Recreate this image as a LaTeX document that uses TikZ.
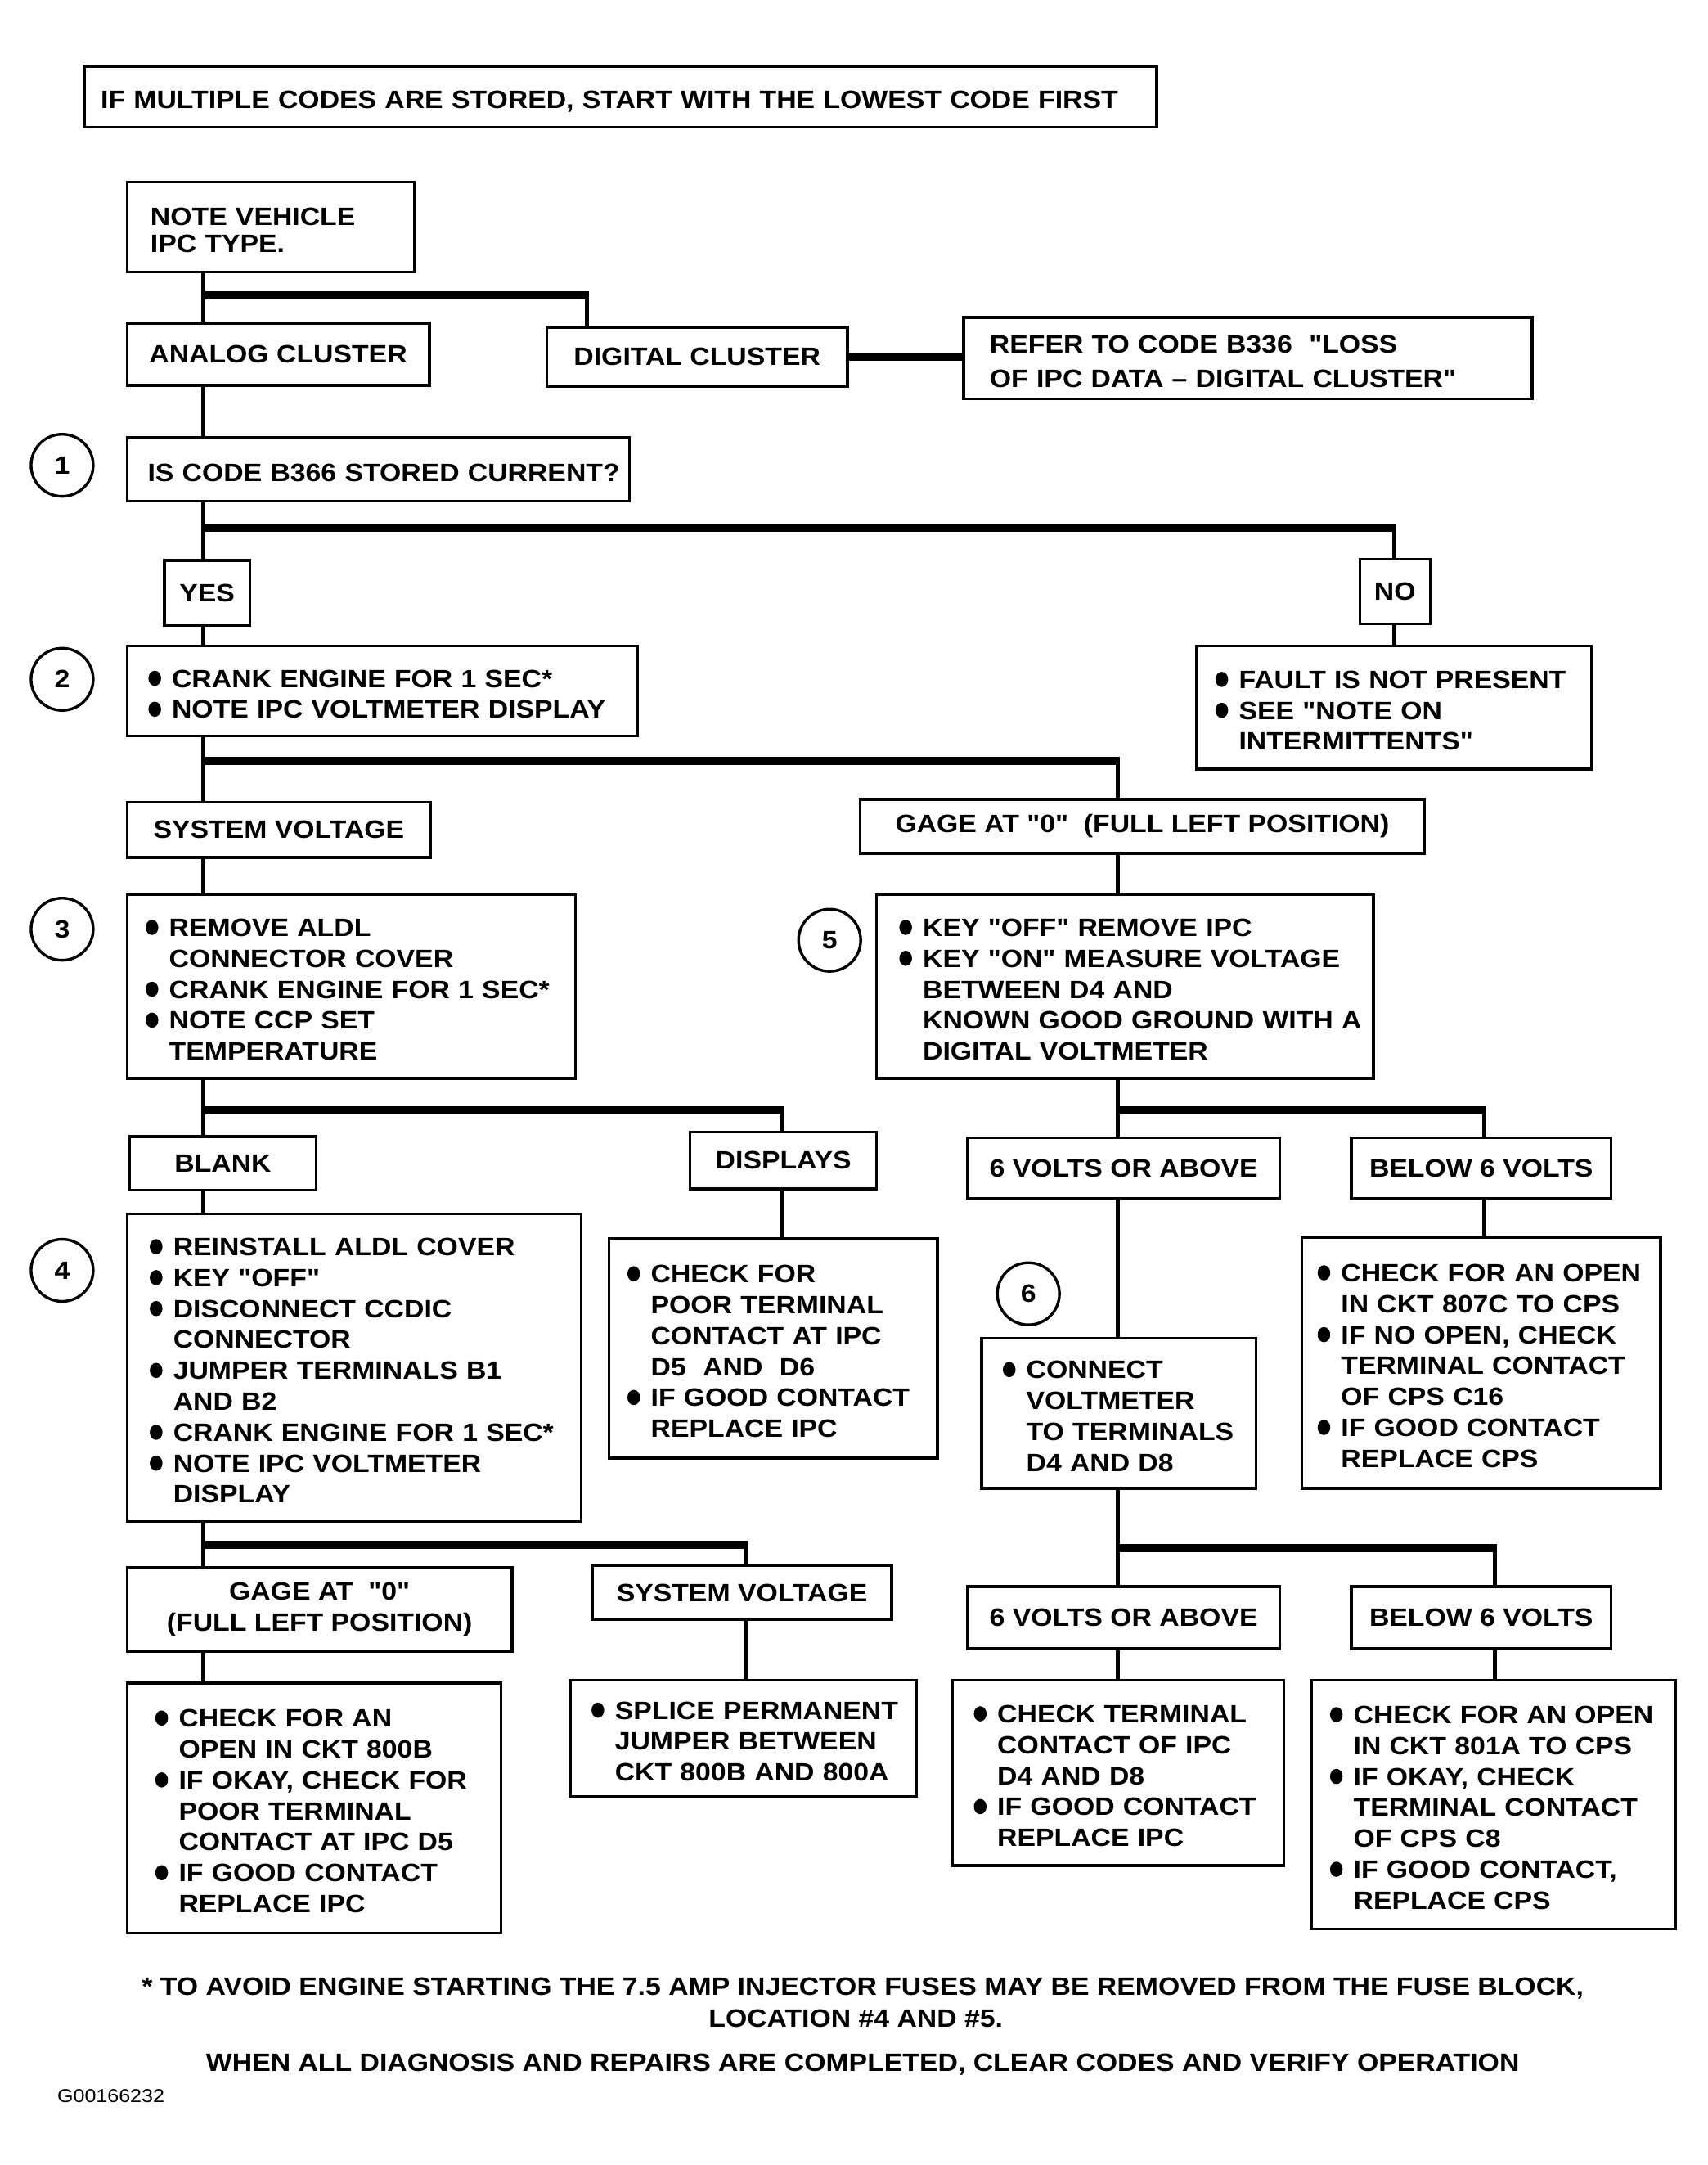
\documentclass[tikz,border=0pt]{standalone}
\usepackage{fontspec}
\setmainfont{Liberation Sans}[Ligatures=TeXOff,FakeStretch=1.1]
\usetikzlibrary{calc,shapes}
\newcommand{\bul}{\makebox[17pt][l]{\tikz[baseline=0pt]\fill (4.6pt,6.5pt) ellipse[x radius=4.6pt,y radius=5.5pt];}}
\newcommand{\ind}{\hspace*{17pt}}
\newcommand{\rows}[1]{\raisebox{-4pt}[\height][\depth]{\begin{tabular}{@{}l@{}}#1\end{tabular}}}

\begin{document}
\begin{tikzpicture}[x=1pt,y=-1pt,
    every node/.style={font=\fontsize{18.2}{22.4}\selectfont\bfseries},
    box/.style={draw,line width=2pt,anchor=north west,align=left,inner ysep=3pt},
    lbl/.style={draw,line width=2pt,anchor=north west,align=center,inner sep=2pt},
    num/.style={draw,circle,line width=2pt,minimum size=45pt,inner sep=0pt},
    vline/.style={line width=3pt},
    hbar/.style={line width=6pt,shorten <=-1.5pt,shorten >=-1.5pt}]
    \useasboundingbox (0,0) rectangle (1237,1568);

    \node[box,text width=753pt,inner xsep=12pt,minimum height=44pt] (title) at (60,47)
        {\rows{IF MULTIPLE CODES ARE STORED, START WITH THE LOWEST CODE FIRST}};
    \node[box,text width=174pt,inner xsep=17pt,minimum height=65pt] (note) at (91,131)
        {\rows{NOTE VEHICLE\\[-2.4pt] IPC TYPE.}};
    \node[lbl,minimum width=219pt,minimum height=45pt] (analog) at (91,233) {ANALOG CLUSTER};
    \node[lbl,minimum width=218pt,minimum height=43pt] (digital) at (395,236) {DIGITAL CLUSTER};
    \node[box,text width=374pt,inner xsep=19pt,minimum height=59pt] (refer) at (697,229)
        {\rows{REFER TO CODE B336~~"LOSS\\[2.6pt] OF IPC DATA – DIGITAL CLUSTER"}};
    \node[box,text width=334pt,inner xsep=15pt,minimum height=46pt] (q1) at (91,316)
        {\rows{IS CODE B366 STORED CURRENT?}};
    \node[lbl,minimum width=62pt,minimum height=47pt] (yes) at (118,405) {YES};
    \node[lbl,minimum width=51pt,minimum height=47pt] (no) at (984,404) {NO};
    \node[box,text width=339pt,inner xsep=15.5pt,minimum height=65pt] (crank) at (91,467)
        {\rows{\bul CRANK ENGINE FOR 1 SEC*\\ \bul NOTE IPC VOLTMETER DISPLAY}};
    \node[box,text width=259pt,inner xsep=13.5pt,minimum height=89pt] (fault) at (866,467)
        {\rows{\bul FAULT IS NOT PRESENT\\ \bul SEE "NOTE ON\\ \ind INTERMITTENTS"}};
    \node[lbl,minimum width=220pt,minimum height=40pt] (sysv) at (91,580) {SYSTEM VOLTAGE};
    \node[lbl,minimum width=409pt,minimum height=39pt] (gage) at (622,578) {GAGE AT "0"~~(FULL LEFT POSITION)};
    \node[box,text width=298pt,inner xsep=13.5pt,minimum height=133pt] (aldl) at (91,647)
        {\rows{\bul REMOVE ALDL\\ \ind CONNECTOR COVER\\ \bul CRANK ENGINE FOR 1 SEC*\\
        \bul NOTE CCP SET\\ \ind TEMPERATURE}};
    \node[box,text width=327pt,inner xsep=16.5pt,minimum height=133pt] (ipc) at (634,647)
        {\rows{\bul KEY "OFF" REMOVE IPC\\ \bul KEY "ON" MEASURE VOLTAGE\\ \ind BETWEEN D4 AND\\
        \ind KNOWN GOOD GROUND WITH A\\ \ind DIGITAL VOLTMETER}};
    \node[lbl,minimum width=135pt,minimum height=39pt] (blank) at (93,822) {BLANK};
    \node[lbl,minimum width=135pt,minimum height=41pt] (displays) at (499,819) {DISPLAYS};
    \node[lbl,minimum width=226pt,minimum height=44pt] (sixa) at (700,823) {6 VOLTS OR ABOVE};
    \node[lbl,minimum width=188pt,minimum height=44pt] (belowa) at (978,823) {BELOW 6 VOLTS};
    \node[box,text width=296pt,inner xsep=16.5pt,minimum height=223pt] (reinst) at (91,878)
        {\rows{\bul REINSTALL ALDL COVER\\ \bul KEY "OFF"\\ \bul DISCONNECT CCDIC\\ \ind CONNECTOR\\
        \bul JUMPER TERMINALS B1\\ \ind AND B2\\ \bul CRANK ENGINE FOR 1 SEC*\\
        \bul NOTE IPC VOLTMETER\\ \ind DISPLAY}};
    \node[box,text width=211pt,inner xsep=13.5pt,minimum height=159pt] (poor) at (440,896)
        {\rows{\bul CHECK FOR\\ \ind POOR TERMINAL\\ \ind CONTACT AT IPC\\ \ind D5~~AND~~D6\\
        \bul IF GOOD CONTACT\\ \ind REPLACE IPC}};
    \node[box,text width=168pt,inner xsep=15.5pt,minimum height=109pt] (conn) at (710,968)
        {\rows{\bul CONNECT\\ \ind VOLTMETER\\ \ind TO TERMINALS\\ \ind D4 AND D8}};
    \node[box,text width=237pt,inner xsep=11.5pt,minimum height=182pt] (opena) at (942,895)
        {\rows{\bul CHECK FOR AN OPEN\\ \ind IN CKT 807C TO CPS\\ \bul IF NO OPEN, CHECK\\
        \ind TERMINAL CONTACT\\ \ind OF CPS C16\\ \bul IF GOOD CONTACT\\ \ind REPLACE CPS}};
    \node[lbl,minimum width=279pt,minimum height=61pt] (gageb) at (91,1134)
        {GAGE AT~~"0"\\ (FULL LEFT POSITION)};
    \node[lbl,minimum width=217pt,minimum height=39pt] (sysvb) at (428,1133) {SYSTEM VOLTAGE};
    \node[lbl,minimum width=226pt,minimum height=45pt] (sixb) at (700,1148) {6 VOLTS OR ABOVE};
    \node[lbl,minimum width=188pt,minimum height=45pt] (belowb) at (978,1148) {BELOW 6 VOLTS};
    \node[box,text width=230pt,inner xsep=20.5pt,minimum height=181pt] (ckt) at (91,1218)
        {\rows{\bul CHECK FOR AN\\ \ind OPEN IN CKT 800B\\ \bul IF OKAY, CHECK FOR\\
        \ind POOR TERMINAL\\ \ind CONTACT AT IPC D5\\ \bul IF GOOD CONTACT\\ \ind REPLACE IPC}};
    \node[box,text width=220pt,inner xsep=15.5pt,minimum height=84pt] (splice) at (412,1216)
        {\rows{\bul SPLICE PERMANENT\\ \ind JUMPER BETWEEN\\ \ind CKT 800B AND 800A}};
    \node[box,text width=209pt,inner xsep=15.5pt,minimum height=134pt] (term) at (689,1216)
        {\rows{\bul CHECK TERMINAL\\ \ind CONTACT OF IPC\\ \ind D4 AND D8\\
        \bul IF GOOD CONTACT\\ \ind REPLACE IPC}};
    \node[box,text width=237pt,inner xsep=13.5pt,minimum height=180pt] (openb) at (949,1216)
        {\rows{\bul CHECK FOR AN OPEN\\ \ind IN CKT 801A TO CPS\\ \bul IF OKAY, CHECK\\
        \ind TERMINAL CONTACT\\ \ind OF CPS C8\\ \bul IF GOOD CONTACT,\\ \ind REPLACE CPS}};

    % step numbers
    \foreach \n/\x/\y in {1/45/337, 2/45/492, 3/45/673, 4/45/920, 5/601/681, 6/745/937}
        \node[num] (c\n) at (\x,\y) {\n};

    % trunk lines
    \coordinate (xa) at (147,0);
    \coordinate (xd) at (425,0);
    \coordinate (xn) at (1010,0);
    \coordinate (xr) at (810,0);
    \coordinate (xs) at (567,0);
    \coordinate (xb) at (1075,0);
    \coordinate (xv) at (540,0);
    \coordinate (xc) at (1083,0);
    \foreach \a/\b/\t in {note/analog/xa, analog/q1/xa, q1/yes/xa, yes/crank/xa, no/fault/xn,
        crank/sysv/xa, sysv/aldl/xa, gage/ipc/xr, aldl/blank/xa, ipc/sixa/xr, blank/reinst/xa,
        displays/poor/xs, sixa/conn/xr, belowa/opena/xb, reinst/gageb/xa, conn/sixb/xr,
        gageb/ckt/xa, sysvb/splice/xv, sixb/term/xr, belowb/openb/xc}
        \draw[vline] (\a.south -| \t) -- (\b.north -| \t);
    % branches
    \foreach \y/\s/\e/\n in {214/xa/xd/digital, 382/xa/xn/no, 551/xa/xr/gage, 804/xa/xs/displays,
        804/xr/xb/belowa, 1119/xa/xv/sysvb, 1121/xr/xc/belowb} {
        \draw[hbar] ($(\s)+(0,\y)$) -- ($(\e)+(0,\y)$);
        \draw[vline] ($(\e)+(0,\y)$) -- (\n.north -| \e);
    }
    \draw[hbar,shorten <=0pt,shorten >=0pt] (digital.east) -- (digital.east -| refer.west);

    % notes at the foot
    \node (fn1) at (625,1440) {* TO AVOID ENGINE STARTING THE 7.5 AMP INJECTOR FUSES MAY BE REMOVED FROM THE FUSE BLOCK,};
    \node (fn2) at (620,1462) {LOCATION \#4 AND \#5.};
    \node (fn3) at (625,1495) {WHEN ALL DIAGNOSIS AND REPAIRS ARE COMPLETED, CLEAR CODES AND VERIFY OPERATION};
    \node[anchor=west,font=\fontsize{13.5}{16}\selectfont] (fig) at (38,1518) {G00166232};
\end{tikzpicture}
\end{document}
